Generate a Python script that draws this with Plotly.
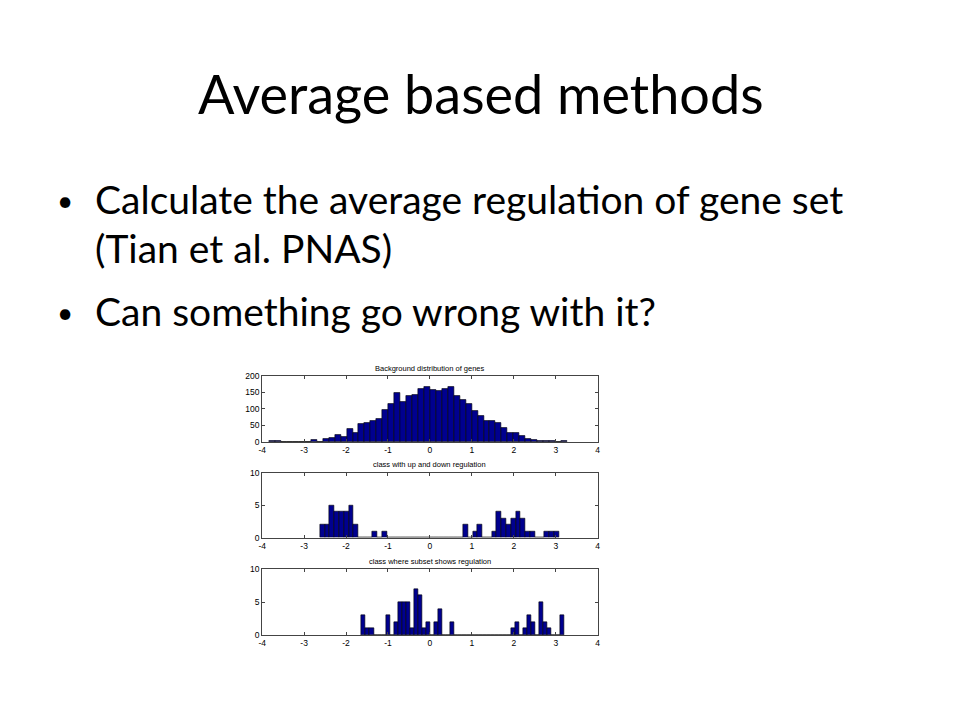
import plotly.graph_objects as go
from plotly.subplots import make_subplots

# ---- data ----
bg_title = "Background distribution of genes"
bg_start = -3.83
bg_width = 0.142
bg_counts = [2, 2, 0, 1, 1, 1, 0, 5, 1, 10,
             13, 20, 16, 40, 27, 55, 58, 65, 70, 96,
             115, 148, 122, 138, 143, 160, 166, 157, 155, 160,
             168, 140, 128, 116, 94, 80, 63, 63, 58, 42,
             27, 27, 18, 10, 5, 4, 4, 4, 0, 2]

ud_title = "class with up and down regulation"
ud_start = -2.62
ud_width = 0.1138
ud_counts = [2, 2, 5, 4, 4, 4, 5, 2, 0, 0,
             0, 1, 0, 1, 0, 0, 0, 0, 0, 0,
             0, 0, 0, 0, 0, 0, 0, 0, 0, 0,
             2, 0, 1, 2, 0, 0, 1, 4, 3, 2,
             3, 4, 3, 1, 1, 0, 0, 1, 1, 1]

sub_title = "class where subset shows regulation"
sub_start = -1.63
sub_width = 0.0964
sub_counts = [3, 1, 1, 0, 0, 0, 3, 0, 2, 5,
              5, 5, 1, 7, 6, 1, 2, 0, 2, 4,
              0, 0, 2, 0, 0, 0, 0, 0, 0, 0,
              0, 0, 0, 0, 0, 0, 0, 1, 2, 0,
              1, 3, 2, 0, 5, 2, 1, 0, 0, 3]

x_ticks = [-4, -3, -2, -1, 0, 1, 2, 3, 4]
x_ticklabels = ["-4", "-3", "-2", "-1", "0", "1", "2", "3", "4"]
bg_yticks = [0, 50, 100, 150, 200]
cls_yticks = [0, 5, 10]

slide_title = "Average based methods"
bullets = ["Calculate the average regulation of gene set", "(Tian et al. PNAS)",
           "Can something go wrong with it?"]

BAR = "rgb(0,0,143)"
FONT = "Liberation Sans"
W, H, OFF = 960, 720, 8


def px(x):
    return (x - OFF) / W


def py(y):
    return 1 - (y - OFF) / H


fig = make_subplots(rows=3, cols=1)

panels = [
    (bg_start, bg_width, bg_counts, bg_yticks, 200),
    (ud_start, ud_width, ud_counts, cls_yticks, 10),
    (sub_start, sub_width, sub_counts, cls_yticks, 10),
]
for i, (start, width, counts, yt, ymax) in enumerate(panels, start=1):
    centers = [start + width * (k + 0.5) for k in range(len(counts))]
    fig.add_trace(go.Bar(x=centers, y=counts, width=[width] * len(counts),
                         marker=dict(color=BAR, line=dict(color="black", width=0.6)),
                         showlegend=False), row=i, col=1)
    fig.update_xaxes(range=[-4, 4], tickvals=x_ticks, ticktext=x_ticklabels,
                     ticks="inside", ticklen=3,
                     showgrid=False, zeroline=False, showline=True, mirror="ticks",
                     linecolor="#444", linewidth=1, tickcolor="#444",
                     tickfont=dict(family=FONT, size=8.5, color="black"), row=i, col=1)
    fig.update_yaxes(range=[0, ymax], tickvals=yt, ticks="inside", ticklen=3,
                     showgrid=False, zeroline=False, showline=True, mirror="ticks",
                     linecolor="#444", linewidth=1, tickcolor="#444",
                     tickfont=dict(family=FONT, size=8.5, color="black"), row=i, col=1)

x0, x1 = px(260), px(598)
doms = [(376, 443), (474, 540), (572, 639)]
for i, (t, b) in enumerate(doms, start=1):
    s = '' if i == 1 else str(i)
    fig.update_layout({
        f"xaxis{s}": dict(domain=[x0, x1], anchor=f"y{s}"),
        f"yaxis{s}": dict(domain=[py(b), py(t)]),
    })

ann = []
for (t, b), txt in zip(doms, [bg_title, ud_title, sub_title]):
    ann.append(dict(text=txt, x=(x0 + x1) / 2, y=py(t - 8), xref="paper", yref="paper",
                    xanchor="center", yanchor="middle", showarrow=False,
                    font=dict(family=FONT, size=7.5, color="black")))

ann.append(dict(text=slide_title, x=px(480), y=py(90), xref="paper", yref="paper",
                xanchor="center", yanchor="middle", showarrow=False,
                font=dict(family="Lato", size=54, color="black")))
for txt, yc, bullet in [(bullets[0], 197, True), (bullets[1], 246, False), (bullets[2], 310, True)]:
    ann.append(dict(text=txt, x=px(90), y=py(yc), xref="paper", yref="paper",
                    xanchor="left", yanchor="middle", showarrow=False,
                    font=dict(family="Lato", size=39, color="black")))
    if bullet:
        ann.append(dict(text="•", x=px(51), y=py(yc + 1), xref="paper", yref="paper",
                        xanchor="left", yanchor="middle", showarrow=False,
                        font=dict(family="Lato", size=28, color="black")))

fig.update_layout(width=W, height=H, margin=dict(l=0, r=0, t=0, b=0),
                  paper_bgcolor="white", plot_bgcolor="white", bargap=0,
                  annotations=ann)

fig.write_html("out.html")
